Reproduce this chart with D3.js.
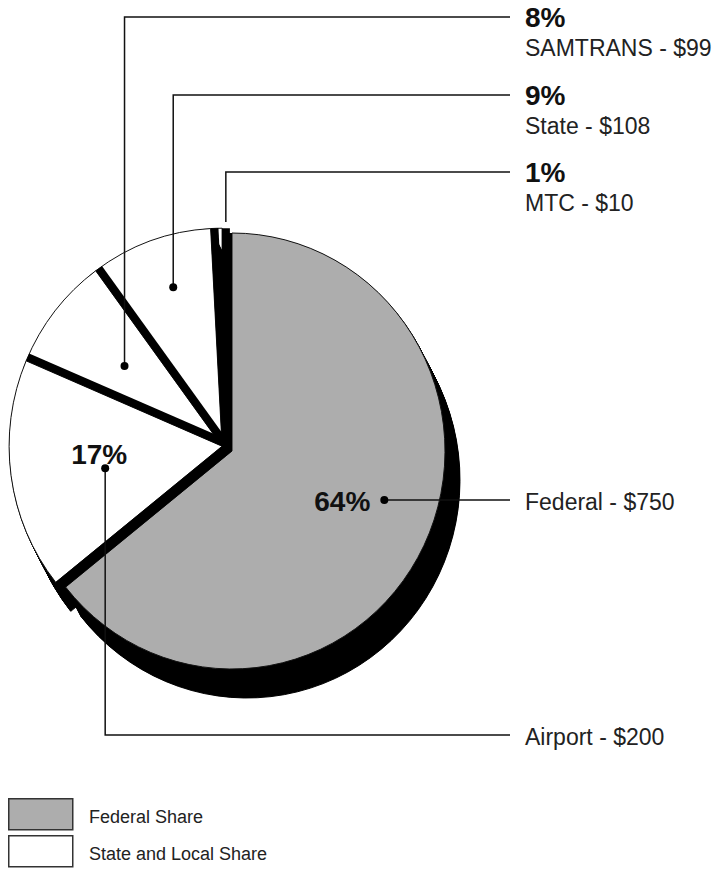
<!DOCTYPE html>
<html lang="en">
<head>
  <meta charset="UTF-8">
  <title>Project funding pie</title>
  <script src="https://cdnjs.cloudflare.com/ajax/libs/d3/7.8.5/d3.min.js"></script>
  <style>
    body {
      margin: 0;
      background: white;
    }
    svg {
      display: block;
      font-family: "Liberation Sans", Arial, sans-serif;
    }
  </style>
</head>
<body>
  <script>
    // data, clockwise from 12 o'clock
    var categories = ["Federal", "Airport", "SAMTRANS", "State", "MTC"];
    var amounts = [750, 200, 99, 108, 10];
    var percentLabels = ["64%", "17%", "8%", "9%", "1%"];
    var shareOf = ["Federal Share", "State and Local Share", "State and Local Share", "State and Local Share", "State and Local Share"];
    var shareGroups = ["Federal Share", "State and Local Share"];

    var w = 716;
    var h = 869;
    var cx = 232, cy = 451, r = 218, sx = 0.977;
    var depth = [15, 29];           // extrusion of the 3d pie
    var wallW = 8;                  // visible side wall between slices
    var groupPull = [0, 11];        // pull-out of each share group
    var dotR = [169, 128, 137, 174, 229];
    var rowY = [500, 735, 17, 95, 172];
    var lineEnd = 510, textX = 525;

    var color = d3.scaleOrdinal()
      .domain(shareGroups)
      .range(["#adadad", "#ffffff"]);

    var svg = d3.select("body").append("svg")
      .attr("width", w)
      .attr("height", h);

    var data = categories.map(function(c, i) {
      return { name: c, amount: amounts[i], pct: percentLabels[i], share: shareOf[i], i: i };
    });

    var pie = d3.pie().sort(null).value(function(d) { return d.amount; });
    var arcs = pie(data);

    // each share group is pulled out along its own middle angle
    var groupMid = shareGroups.map(function(g) {
      var mine = arcs.filter(function(a) { return a.data.share === g; });
      return (d3.min(mine, function(a) { return a.startAngle; }) + d3.max(mine, function(a) { return a.endAngle; })) / 2;
    });
    arcs.forEach(function(a) {
      a.mid = (a.startAngle + a.endAngle) / 2;
      var g = shareGroups.indexOf(a.data.share);
      a.ox = groupPull[g] * Math.sin(groupMid[g]) / sx;
      a.oy = -groupPull[g] * Math.cos(groupMid[g]);
    });

    var arc = d3.arc().innerRadius(0).outerRadius(r);

    // side wall of a slice edge, pushed outward by wallW
    function wall(a, side) {
      var ang = side === 0 ? a.startAngle : a.endAngle;
      var nx = side === 0 ? -Math.cos(ang) : Math.cos(ang);
      var ny = side === 0 ? -Math.sin(ang) : Math.sin(ang);
      var ex = r * Math.sin(ang), ey = -r * Math.cos(ang);
      return d3.line()([[0, 0], [ex, ey], [ex + wallW * nx, ey + wallW * ny], [wallW * nx, wallW * ny]]) + "Z";
    }

    // paint back slices first
    var order = arcs.slice().sort(function(a, b) {
      return (-Math.cos(a.mid)) - (-Math.cos(b.mid));
    });

    var steps = d3.range(30, 0, -1);

    var pieG = svg.append("g")
      .attr("transform", "translate(" + cx + "," + cy + ") scale(" + sx + ",1)");

    var slice = pieG.selectAll("g.slice")
      .data(order)
      .enter()
      .append("g")
      .attr("class", "slice")
      .attr("transform", function(d) { return "translate(" + d.ox + "," + d.oy + ")"; });

    slice.selectAll("path.side")
      .data(function(d) { return steps.map(function(s) { return { a: d, s: s }; }); })
      .enter()
      .append("path")
      .attr("class", "side")
      .attr("d", function(d) { return arc(d.a); })
      .attr("transform", function(d) {
        return "translate(" + (depth[0] / sx * d.s / 30) + "," + (depth[1] * d.s / 30) + ")";
      })
      .attr("fill", "black")
      .attr("stroke", "black")
      .attr("stroke-width", 1);

    slice.append("path")
      .attr("class", "face")
      .attr("d", arc)
      .attr("fill", function(d) { return color(d.data.share); })
      .attr("stroke", "#111")
      .attr("stroke-width", 1);

    slice.selectAll("path.wall")
      .data(function(d) { return [wall(d, 0), wall(d, 1)]; })
      .enter()
      .append("path")
      .attr("class", "wall")
      .attr("d", function(d) { return d; })
      .attr("fill", "black");

    // leaders and labels
    var lab = svg.append("g");
    arcs.forEach(function(a) {
      var i = a.data.i;
      var dx = cx + dotR[i] * Math.sin(a.mid);
      var dy = cy - dotR[i] * Math.cos(a.mid);
      var pts;
      if (i === 0) {
        pts = [[dx, rowY[i]], [lineEnd, rowY[i]]];
      } else {
        pts = [[dx, dy], [dx, rowY[i]], [lineEnd, rowY[i]]];
      }
      lab.append("path")
        .attr("d", d3.line()(pts))
        .attr("fill", "none")
        .attr("stroke", "#111")
        .attr("stroke-width", 1.5);
      if (i !== 4) {
        lab.append("circle")
          .attr("cx", dx)
          .attr("cy", i === 0 ? rowY[i] : dy)
          .attr("r", 4)
          .attr("fill", "black");
      }
      var name = a.data.name + " - $" + a.data.amount;
      if (i === 0) {
        lab.append("text")
          .attr("x", dx - 14).attr("y", rowY[i] + 11)
          .attr("text-anchor", "end")
          .attr("font-size", 28).attr("font-weight", "bold")
          .attr("fill", "#111")
          .text(a.data.pct);
        lab.append("text")
          .attr("x", textX).attr("y", rowY[i] + 10)
          .attr("font-size", 23).attr("fill", "#222")
          .text(name);
      } else if (i === 1) {
        lab.append("text")
          .attr("x", dx - 6).attr("y", dy - 4)
          .attr("text-anchor", "middle")
          .attr("font-size", 28).attr("font-weight", "bold")
          .attr("fill", "#111")
          .text(a.data.pct);
        lab.append("text")
          .attr("x", textX).attr("y", rowY[i] + 10)
          .attr("font-size", 23).attr("fill", "#222")
          .text(name);
      } else {
        lab.append("text")
          .attr("x", textX).attr("y", rowY[i] + 10)
          .attr("font-size", 28).attr("font-weight", "bold")
          .attr("fill", "#111")
          .text(a.data.pct);
        lab.append("text")
          .attr("x", textX).attr("y", rowY[i] + 39)
          .attr("font-size", 23).attr("fill", "#222")
          .text(name);
      }
    });

    // legend
    var legend = svg.append("g").attr("transform", "translate(8,798)");
    var item = legend.selectAll("g")
      .data(shareGroups)
      .enter()
      .append("g")
      .attr("transform", function(d, i) { return "translate(0," + (i * 37) + ")"; });
    item.append("rect")
      .attr("x", 0.75).attr("y", 0.75)
      .attr("width", 64).attr("height", 31)
      .attr("fill", function(d) { return color(d); })
      .attr("stroke", "#333")
      .attr("stroke-width", 1.5);
    item.append("text")
      .attr("x", 81).attr("y", 25)
      .attr("font-size", 18)
      .attr("fill", "#222")
      .text(function(d) { return d; });
  </script>
</body>
</html>
